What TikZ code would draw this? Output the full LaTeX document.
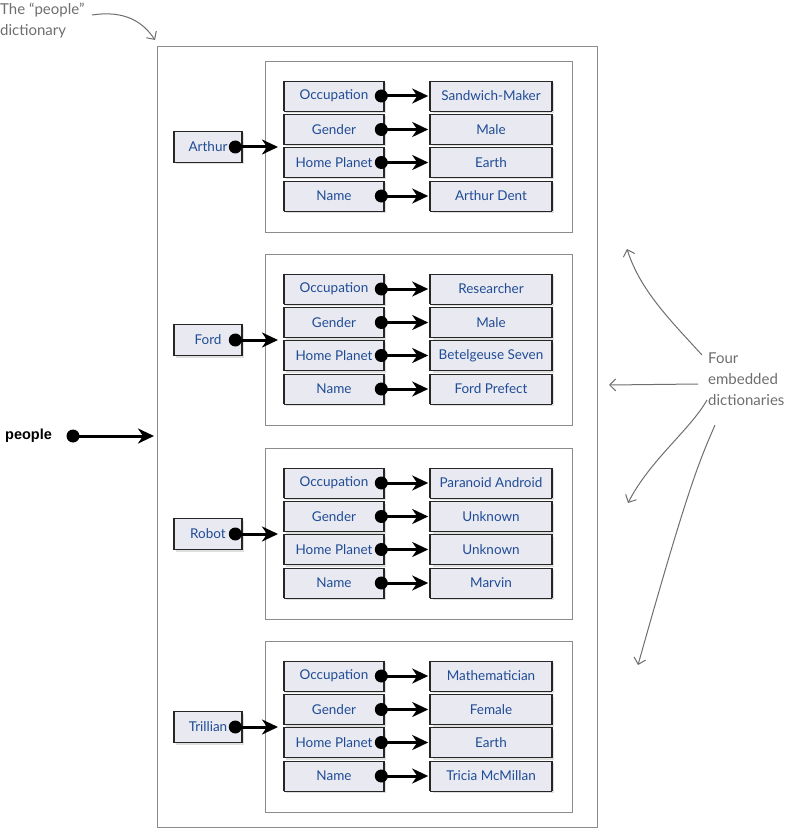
\documentclass[tikz,border=0pt]{standalone}
\usepackage{fontspec}
\setmainfont{Lato}
\newfontfamily\labfont{Liberation Sans}
\usetikzlibrary{arrows.meta,shadows}
\definecolor{ink}{HTML}{1F4C94}
\definecolor{boxfill}{HTML}{E9E9F2}
\definecolor{note}{HTML}{6E6E6E}
\definecolor{frame}{HTML}{8C8C8C}
\tikzset{
  keybox/.style={draw=black!85, line width=0.6pt, fill=boxfill, minimum width=100pt,
    minimum height=30pt, inner sep=0pt, text=ink, font=\fontsize{13.5}{13.5}\selectfont,
    drop shadow={opacity=0.25, shadow xshift=2pt, shadow yshift=-2pt}},
  valbox/.style={keybox, minimum width=121pt},
  namebox/.style={keybox, minimum width=68pt, minimum height=31pt},
  edge/.style={line width=2.2pt, black!85},
  dictframe/.style={draw=frame, line width=1.3pt},
  link/.style={line width=3pt, -{Stealth[length=16pt,width=15pt,inset=5pt]}},
  dotmark/.style={fill=black},
  notearrow/.style={draw=note, line width=1pt, -{Straight Barb[length=6pt,width=12pt]}},
  notetext/.style={text=note, font=\fontsize{15}{21}\selectfont, align=left, inner sep=0pt}
}
\newcommand\dictblock[7]{%
\begin{scope}[shift={(0,#2)}]
  \node[dictframe, anchor=north west, minimum width=307pt, minimum height=171pt] (#1-frame) at (265,0) {};
  \node[namebox] (#1) at (208,86) {#3};
  \node[keybox] (#1-k1) at (334,35) {Occupation};
  \node[keybox] (#1-k2) at (334,68.5) {Gender};
  \node[keybox] (#1-k3) at (334,101.5) {Home Planet};
  \node[keybox] (#1-k4) at (334,135) {Name};
  \node[valbox] (#1-v1) at (491,35) {#4};
  \node[valbox] (#1-v2) at (491,68.5) {#5};
  \node[valbox] (#1-v3) at (491,101.5) {#6};
  \node[valbox] (#1-v4) at (491,135) {#7};
  \foreach \n in {#1,#1-k1,#1-k2,#1-k3,#1-k4,#1-v1,#1-v2,#1-v3,#1-v4}{
    \draw[edge] (\n.north west) -- (\n.south west);
    \draw[edge] (\n.north east) -- (\n.south east);
  }
  \foreach \i in {1,...,4}{
    \coordinate (#1-d\i) at ([xshift=-3pt]#1-k\i.east);
    \draw[link] (#1-d\i) -- ([xshift=-2pt]#1-v\i.west);
    \fill[dotmark] (#1-d\i) circle (6.5pt);
  }
  \coordinate (#1-d) at ([xshift=-7pt]#1.east);
  \coordinate (#1-t) at (278,86);
  \draw[link] (#1-d) -- (#1-t);
  \fill[dotmark] (#1-d) circle (6.5pt);
\end{scope}}
\begin{document}
\begin{tikzpicture}[x=1pt,y=-1pt]
\useasboundingbox (0,0) rectangle (788,829);
\node[draw=frame, line width=1.3pt, anchor=north west, minimum width=440pt, minimum height=781pt, inner sep=0pt] (people-dict) at (157,46) {};

\dictblock{arthur}{61}{Arthur}{Sandwich-Maker}{Male}{Earth}{Arthur Dent}
\dictblock{ford}{254}{Ford}{Researcher}{Male}{Betelgeuse Seven}{Ford Prefect}
\dictblock{robot}{448}{Robot}{Paranoid Android}{Unknown}{Unknown}{Marvin}
\dictblock{trillian}{641}{Trillian}{Mathematician}{Female}{Earth}{Tricia McMillan}

% people variable
\node[anchor=west, inner sep=0pt, font=\labfont\bfseries\fontsize{14.5}{15}\selectfont] (people) at (5,436) {people};
\coordinate (people-d) at (73,436);
\coordinate (people-t) at (154,436);
\draw[link] (people-d) -- (people-t);
\fill[dotmark] (people-d) circle (6.5pt);

% top-left annotation
\node[notetext, anchor=north west] (note-dict) at (0,3) {The “people”\\dictionary};
\coordinate (nd-s) at (92,15);
\coordinate (nd-tip) at (155,40);
\draw[notearrow] (nd-s) .. controls (125,10) and (143,22) .. (nd-tip);

% right annotation
\node[notetext, anchor=north west] (note-four) at (708,353) {Four\\embedded\\dictionaries};
\coordinate (a1s) at (702,355);
\coordinate (a1t) at (627,249);
\coordinate (a2s) at (698,384);
\coordinate (a2t) at (609,385);
\coordinate (a3s) at (707,400);
\coordinate (a3t) at (628,503);
\coordinate (a4s) at (715,425);
\coordinate (a4t) at (638,665);
\draw[notearrow] (a1s) .. controls (670,320) and (640,290) .. (a1t);
\draw[notearrow] (a2s) -- (a2t);
\draw[notearrow] (a3s) .. controls (690,430) and (650,460) .. (a3t);
\draw[notearrow] (a4s) .. controls (700,460) and (690,480) .. (a4t);
\end{tikzpicture}
\end{document}
